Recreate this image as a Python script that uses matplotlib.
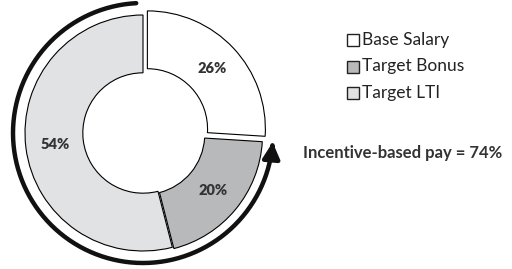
import numpy as np
import matplotlib.pyplot as plt
from matplotlib.patches import FancyArrowPatch
from matplotlib.path import Path

plt.rcParams['font.family'] = ['Lato', 'DejaVu Sans']

labels = ['Base Salary', 'Target Bonus', 'Target LTI']
shares = [26, 20, 54]
colors = ['#ffffff', '#b8b9bb', '#e1e2e4']
incentive = 74

W, H = 512, 269
fig = plt.figure(figsize=(W / 100, H / 100), dpi=100)
ax = fig.add_axes([0, 0, 1, 1])

cx, cy, r = 143, H - 133, 118

# explode is in data units (pixels here)
wedges, texts = ax.pie(shares, colors=colors, startangle=90, counterclock=False,
                       center=(cx, cy), radius=r, explode=[6, 2, 0],
                       wedgeprops=dict(width=r * 0.49, edgecolor='black', linewidth=0.8))

# percentage labels
for w, s in zip(wedges, shares):
    ang = np.radians((w.theta1 + w.theta2) / 2)
    ox, oy = w.center
    rr = r * 0.75
    ax.text(ox + rr * np.cos(ang), oy + rr * np.sin(ang), f'{s}%',
            ha='center', va='center', fontsize=10.5, fontweight='heavy', color='#333333')

# arrow around the incentive part
ra = 130
t = np.radians(np.linspace(93, 90 + incentive / 100 * 360 - 0.5, 200))
verts = np.column_stack([cx + ra * np.cos(t), cy + ra * np.sin(t)])
arrow = FancyArrowPatch(path=Path(verts), arrowstyle='-|>,head_length=3.2,head_width=1.7',
                        color='#111111', linewidth=3.2, mutation_scale=3,
                        shrinkA=0, shrinkB=0)
ax.add_patch(arrow)

# legend
for i, (lab, c) in enumerate(zip(labels, colors)):
    y = H - 40 - i * 26.5
    ax.add_patch(plt.Rectangle((347, y - 6), 12, 12, facecolor=c,
                               edgecolor='#222222', linewidth=1.0))
    ax.text(362, y, lab, va='center', ha='left', fontsize=12.5, color='#222222')

ax.text(303, H - 153, f'Incentive-based pay = {incentive}%', va='center', ha='left',
        fontsize=12, fontweight='bold', color='#333333')

ax.set_xlim(0, W)
ax.set_ylim(0, H)
ax.set_aspect('equal')
ax.axis('off')

fig.savefig('out.png', dpi=100)
